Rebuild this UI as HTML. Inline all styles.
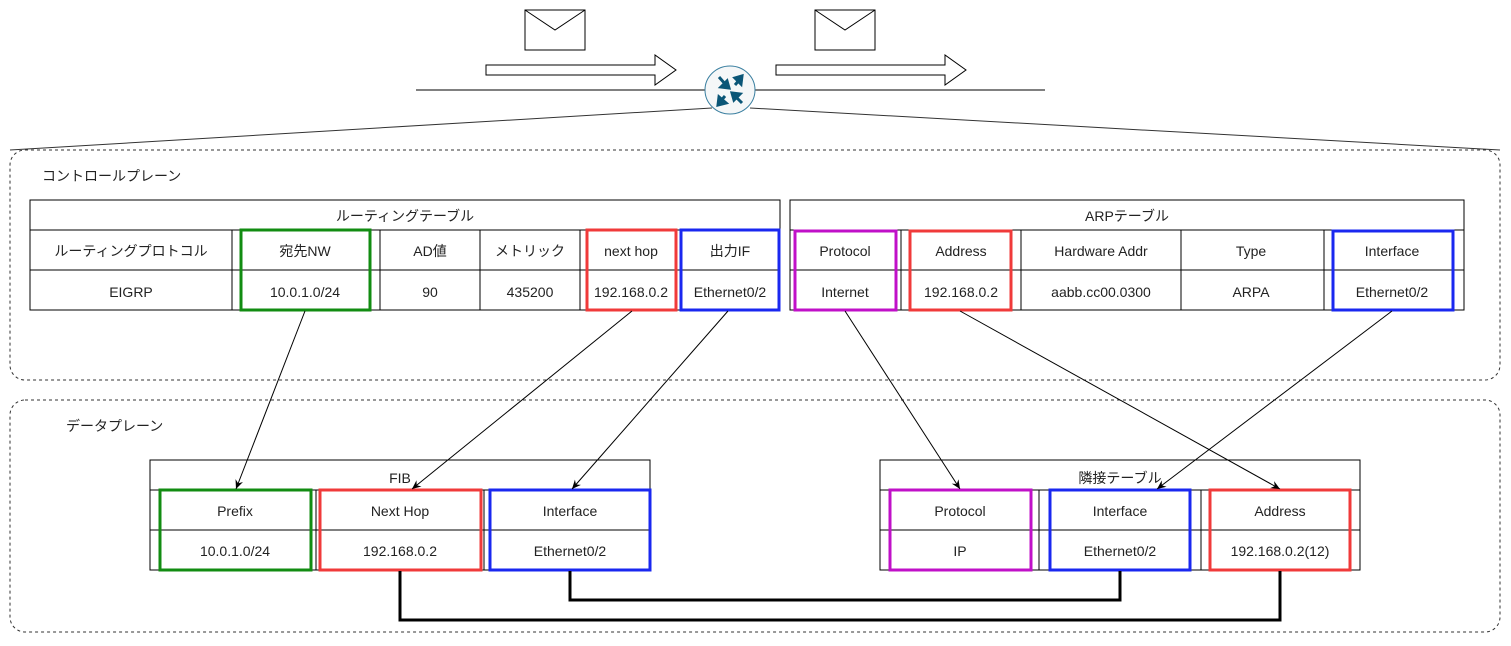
<!DOCTYPE html>
<html><head><meta charset="utf-8"><style>
body{margin:0;background:#fff}
text{font-family:"Liberation Sans","Noto Sans CJK JP",sans-serif;font-size:14px;fill:#222}
</style></head><body>
<svg width="1511" height="641" viewBox="0 0 1511 641" xmlns="http://www.w3.org/2000/svg">
<defs><marker id="a" markerWidth="10" markerHeight="10" refX="9" refY="5" orient="auto" markerUnits="userSpaceOnUse"><path d="M0,1 L9,5 L0,9 L3,5 Z" fill="#000"/></marker></defs>
<!-- top -->
<rect x="525" y="10" width="60" height="40" fill="#fff" stroke="#000"/>
<path d="M525,10 L555,30 L585,10" fill="none" stroke="#000"/>
<rect x="815" y="10" width="60" height="40" fill="#fff" stroke="#000"/>
<path d="M815,10 L845,30 L875,10" fill="none" stroke="#000"/>
<path d="M486,65 H655 V55 L676,70 L655,85 V75 H486 Z" fill="#fff" stroke="#000"/>
<path d="M776,65 H945 V55 L966,70 L945,85 V75 H776 Z" fill="#fff" stroke="#000"/>
<line x1="416" y1="90" x2="1045" y2="90" stroke="#000"/>
<line x1="712" y1="108" x2="10" y2="150" stroke="#333"/>
<line x1="750" y1="108" x2="1500" y2="150" stroke="#333"/>
<ellipse cx="730" cy="90" rx="25" ry="24" fill="#f5f7f8" stroke="#3a7fa0"/>
<g stroke="#0b5677" stroke-width="3" fill="#0b5677">
<line x1="719" y1="77" x2="726" y2="85"/><path d="M729,88 L721,87 L727,81 Z"/>
<line x1="741" y1="78" x2="735" y2="85"/><path d="M742,76 L741,84 L735,78 Z"/>
<line x1="719" y1="103" x2="725" y2="96"/><path d="M718,105 L719,97 L726,103 Z"/>
<line x1="742" y1="103" x2="735" y2="96"/><path d="M732,93 L740,94 L734,100 Z"/>
</g>
<!-- containers -->
<rect x="10" y="150" width="1490" height="230" rx="15" fill="none" stroke="#333" stroke-dasharray="3,3"/>
<rect x="10" y="400" width="1490" height="232" rx="15" fill="none" stroke="#333" stroke-dasharray="3,3"/>
<text x="42" y="181">コントロールプレーン</text>
<text x="66" y="431">データプレーン</text>
<g stroke="#000" fill="none">
<rect x="30" y="200" width="750" height="110"/>
<line x1="30" y1="230" x2="780" y2="230"/><line x1="30" y1="270" x2="780" y2="270"/>
<line x1="232" y1="230" x2="232" y2="310"/><line x1="380" y1="230" x2="380" y2="310"/>
<line x1="480" y1="230" x2="480" y2="310"/><line x1="580" y1="230" x2="580" y2="310"/>
<line x1="680" y1="230" x2="680" y2="310"/>
<rect x="790" y="200" width="674" height="110"/>
<line x1="790" y1="230" x2="1464" y2="230"/><line x1="790" y1="270" x2="1464" y2="270"/>
<line x1="901" y1="230" x2="901" y2="310"/><line x1="1021" y1="230" x2="1021" y2="310"/>
<line x1="1181" y1="230" x2="1181" y2="310"/><line x1="1324" y1="230" x2="1324" y2="310"/>
<rect x="150" y="460" width="500" height="110"/>
<line x1="150" y1="490" x2="650" y2="490"/><line x1="150" y1="530" x2="650" y2="530"/>
<line x1="316" y1="490" x2="316" y2="570"/><line x1="484" y1="490" x2="484" y2="570"/>
<rect x="880" y="460" width="480" height="110"/>
<line x1="880" y1="490" x2="1360" y2="490"/><line x1="880" y1="530" x2="1360" y2="530"/>
<line x1="1039" y1="490" x2="1039" y2="570"/><line x1="1201" y1="490" x2="1201" y2="570"/>
</g>
<g fill="none" stroke-width="3">
<rect x="241" y="230" width="129" height="80" stroke="#128c12"/>
<rect x="587" y="230" width="89" height="80" stroke="#f03a3a"/>
<rect x="681" y="230" width="98" height="80" stroke="#1a28f0"/>
<rect x="795" y="231" width="101" height="79" stroke="#c010c8"/>
<rect x="910" y="231" width="101" height="79" stroke="#f03a3a"/>
<rect x="1333" y="231" width="120" height="79" stroke="#1a28f0"/>
<rect x="160" y="490" width="151" height="80" stroke="#128c12"/>
<rect x="320" y="490" width="161" height="80" stroke="#f03a3a"/>
<rect x="490" y="490" width="160" height="80" stroke="#1a28f0"/>
<rect x="890" y="490" width="141" height="80" stroke="#c010c8"/>
<rect x="1050" y="490" width="140" height="80" stroke="#1a28f0"/>
<rect x="1210" y="490" width="140" height="80" stroke="#f03a3a"/>
</g>
<g text-anchor="middle">
<text x="405" y="221">ルーティングテーブル</text>
<text x="131" y="256">ルーティングプロトコル</text><text x="131" y="297">EIGRP</text>
<text x="305" y="256">宛先NW</text><text x="305" y="297">10.0.1.0/24</text>
<text x="430" y="256">AD値</text><text x="430" y="297">90</text>
<text x="530" y="256">メトリック</text><text x="530" y="297">435200</text>
<text x="631" y="256">next hop</text><text x="631" y="297">192.168.0.2</text>
<text x="730" y="256">出力IF</text><text x="730" y="297">Ethernet0/2</text>
<text x="1127" y="221">ARPテーブル</text>
<text x="845" y="256">Protocol</text><text x="845" y="297">Internet</text>
<text x="961" y="256">Address</text><text x="961" y="297">192.168.0.2</text>
<text x="1101" y="256">Hardware Addr</text><text x="1101" y="297">aabb.cc00.0300</text>
<text x="1251" y="256">Type</text><text x="1251" y="297">ARPA</text>
<text x="1392" y="256">Interface</text><text x="1392" y="297">Ethernet0/2</text>
<text x="400" y="483">FIB</text>
<text x="235" y="516">Prefix</text><text x="235" y="556">10.0.1.0/24</text>
<text x="400" y="516">Next Hop</text><text x="400" y="556">192.168.0.2</text>
<text x="570" y="516">Interface</text><text x="570" y="556">Ethernet0/2</text>
<text x="1120" y="483">隣接テーブル</text>
<text x="960" y="516">Protocol</text><text x="960" y="556">IP</text>
<text x="1120" y="516">Interface</text><text x="1120" y="556">Ethernet0/2</text>
<text x="1280" y="516">Address</text><text x="1280" y="556">192.168.0.2(12)</text>
</g>
<g stroke="#000" marker-end="url(#a)">
<line x1="305" y1="311" x2="236" y2="489"/>
<line x1="632" y1="311" x2="412" y2="489"/>
<line x1="728" y1="311" x2="572" y2="489"/>
<line x1="845" y1="311" x2="960" y2="489"/>
<line x1="960" y1="311" x2="1280" y2="489"/>
<line x1="1392" y1="311" x2="1157" y2="489"/>
</g>
<g fill="none" stroke="#000" stroke-width="3">
<path d="M400,571 V620 H1280 V571"/>
<path d="M570,571 V600 H1120 V571"/>
</g>
</svg>
</body></html>
